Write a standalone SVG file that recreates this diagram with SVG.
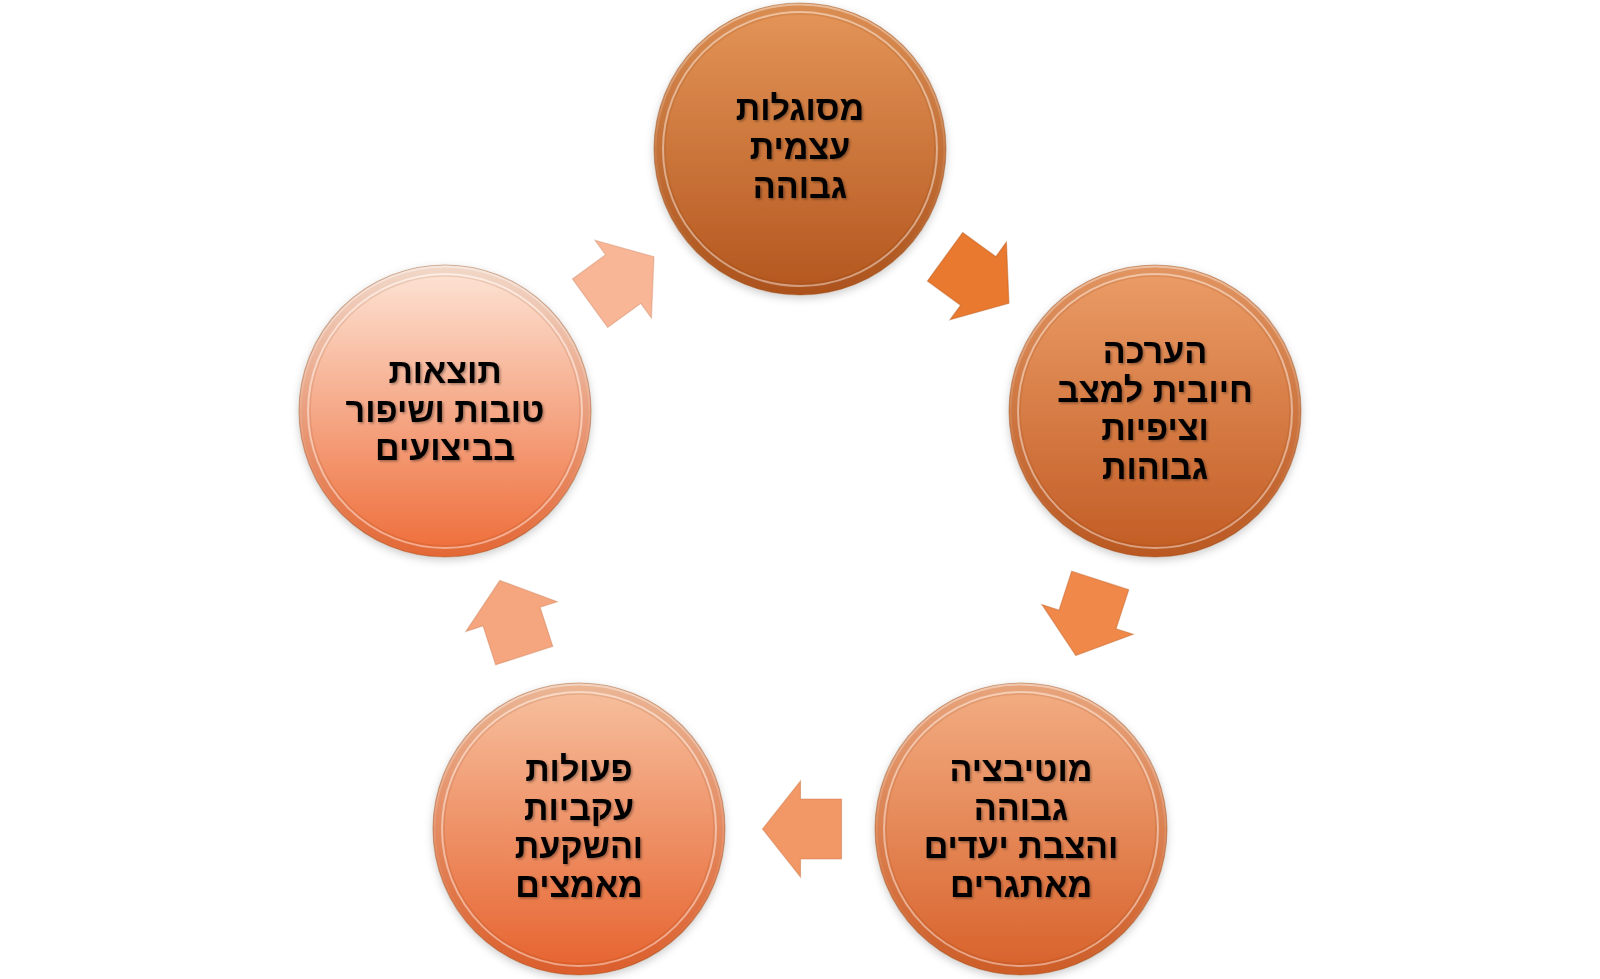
<svg xmlns="http://www.w3.org/2000/svg" width="1600" height="979" viewBox="0 0 1600 979">
  <style>
    .lbl { font-family: "Liberation Sans", Arial, "DejaVu Sans", sans-serif; font-weight: bold; font-size: 34px; fill: #000; text-anchor: middle; }
    .band { fill: none; stroke: #5a2a0a; stroke-opacity: 0.07; stroke-width: 8; }
    .hl { fill: none; stroke: #ffffff; stroke-opacity: 0.42; stroke-width: 2; }
    .top { fill: none; stroke: url(#topG); stroke-width: 2; }
    .crease { fill: none; stroke: #6a300c; stroke-opacity: 0.12; stroke-width: 1.5; }
    .edge { stroke: #8c4516; stroke-opacity: 0.4; stroke-width: 1.2; }
    .arr { stroke-width: 1.2; stroke-opacity: 0.45; stroke-linejoin: miter; }
  </style>
  <defs>
    <linearGradient id="g1" x1="0" y1="0" x2="0" y2="1">
      <stop offset="0" stop-color="#E59659"/>
      <stop offset="1" stop-color="#B3561E"/>
    </linearGradient>
    <linearGradient id="g2" x1="0" y1="0" x2="0" y2="1">
      <stop offset="0" stop-color="#EC9D68"/>
      <stop offset="1" stop-color="#C25C24"/>
    </linearGradient>
    <linearGradient id="g3" x1="0" y1="0" x2="0" y2="1">
      <stop offset="0" stop-color="#F3AE84"/>
      <stop offset="1" stop-color="#D7612A"/>
    </linearGradient>
    <linearGradient id="g4" x1="0" y1="0" x2="0" y2="1">
      <stop offset="0" stop-color="#F7C1A0"/>
      <stop offset="1" stop-color="#E6622E"/>
    </linearGradient>
    <linearGradient id="g5" x1="0" y1="0" x2="0" y2="1">
      <stop offset="0" stop-color="#FDE5D7"/>
      <stop offset="1" stop-color="#EE6C38"/>
    </linearGradient>
    <linearGradient id="topG" x1="0" y1="0" x2="0" y2="1">
      <stop offset="0" stop-color="#ffffff" stop-opacity="0.4"/>
      <stop offset="0.5" stop-color="#ffffff" stop-opacity="0.1"/>
      <stop offset="1" stop-color="#ffffff" stop-opacity="0"/>
    </linearGradient>
    <filter id="shadow" x="-20%" y="-20%" width="140%" height="140%">
      <feDropShadow dx="0" dy="3" stdDeviation="4" flood-color="#000" flood-opacity="0.2"/>
    </filter>
    <filter id="tshadow" x="-10%" y="-20%" width="120%" height="140%">
      <feDropShadow dx="1.5" dy="1.5" stdDeviation="0.8" flood-color="#000" flood-opacity="0.35"/>
    </filter>
  </defs>

  <rect width="1600" height="979" fill="#ffffff"/>

  <g id="connectors">
    <polygon class="arr" fill="#E8792F" stroke="#B95A1E" transform="translate(977,280) rotate(36)" points="-39.5,-30 1.5,-30 1.5,-48 39.5,0 1.5,48 1.5,30 -39.5,30"/>
    <polygon class="arr" fill="#EF8848" stroke="#C2622A" transform="translate(1088,618) rotate(108)" points="-39.5,-30 1.5,-30 1.5,-48 39.5,0 1.5,48 1.5,30 -39.5,30"/>
    <polygon class="arr" fill="#F29866" stroke="#C8703F" transform="translate(802,829) rotate(180)" points="-39.5,-30 1.5,-30 1.5,-48 39.5,0 1.5,48 1.5,30 -39.5,30"/>
    <polygon class="arr" fill="#F5A67E" stroke="#CC7E55" transform="translate(512,618) rotate(252)" points="-39.5,-30 1.5,-30 1.5,-48 39.5,0 1.5,48 1.5,30 -39.5,30"/>
    <polygon class="arr" fill="#F8B697" stroke="#D08E6E" transform="translate(622,280) rotate(-36)" points="-39.5,-30 1.5,-30 1.5,-48 39.5,0 1.5,48 1.5,30 -39.5,30"/>
  </g>

  <g id="node-1">
    <circle cx="800" cy="149" r="146" fill="url(#g1)" class="edge" filter="url(#shadow)"/>
    <circle cx="800" cy="149" r="141.5" class="band"/>
    <circle cx="800" cy="149" r="144.5" class="top"/>
    <circle cx="800" cy="149" r="137" class="hl"/>
    <circle cx="800" cy="149" r="135" class="crease"/>
    <g filter="url(#tshadow)">
      <text class="lbl" x="800" y="120">מסוגלות</text>
      <text class="lbl" x="800" y="159">עצמית</text>
      <text class="lbl" x="800" y="198">גבוהה</text>
    </g>
  </g>

  <g id="node-2">
    <circle cx="1155" cy="411" r="146" fill="url(#g2)" class="edge" filter="url(#shadow)"/>
    <circle cx="1155" cy="411" r="141.5" class="band"/>
    <circle cx="1155" cy="411" r="144.5" class="top"/>
    <circle cx="1155" cy="411" r="137" class="hl"/>
    <circle cx="1155" cy="411" r="135" class="crease"/>
    <g filter="url(#tshadow)">
      <text class="lbl" x="1155" y="363">הערכה</text>
      <text class="lbl" x="1155" y="402">חיובית למצב</text>
      <text class="lbl" x="1155" y="440">וציפיות</text>
      <text class="lbl" x="1155" y="479">גבוהות</text>
    </g>
  </g>

  <g id="node-3">
    <circle cx="1021" cy="829" r="146" fill="url(#g3)" class="edge" filter="url(#shadow)"/>
    <circle cx="1021" cy="829" r="141.5" class="band"/>
    <circle cx="1021" cy="829" r="144.5" class="top"/>
    <circle cx="1021" cy="829" r="137" class="hl"/>
    <circle cx="1021" cy="829" r="135" class="crease"/>
    <g filter="url(#tshadow)">
      <text class="lbl" x="1021" y="781">מוטיבציה</text>
      <text class="lbl" x="1021" y="820">גבוהה</text>
      <text class="lbl" x="1021" y="858">והצבת יעדים</text>
      <text class="lbl" x="1021" y="897">מאתגרים</text>
    </g>
  </g>

  <g id="node-4">
    <circle cx="579" cy="829" r="146" fill="url(#g4)" class="edge" filter="url(#shadow)"/>
    <circle cx="579" cy="829" r="141.5" class="band"/>
    <circle cx="579" cy="829" r="144.5" class="top"/>
    <circle cx="579" cy="829" r="137" class="hl"/>
    <circle cx="579" cy="829" r="135" class="crease"/>
    <g filter="url(#tshadow)">
      <text class="lbl" x="579" y="781">פעולות</text>
      <text class="lbl" x="579" y="820">עקביות</text>
      <text class="lbl" x="579" y="858">והשקעת</text>
      <text class="lbl" x="579" y="897">מאמצים</text>
    </g>
  </g>

  <g id="node-5">
    <circle cx="445" cy="411" r="146" fill="url(#g5)" class="edge" filter="url(#shadow)"/>
    <circle cx="445" cy="411" r="141.5" class="band"/>
    <circle cx="445" cy="411" r="144.5" class="top"/>
    <circle cx="445" cy="411" r="137" class="hl"/>
    <circle cx="445" cy="411" r="135" class="crease"/>
    <g filter="url(#tshadow)">
      <text class="lbl" x="445" y="383">תוצאות</text>
      <text class="lbl" x="445" y="422">טובות ושיפור</text>
      <text class="lbl" x="445" y="460">בביצועים</text>
    </g>
  </g>
</svg>
